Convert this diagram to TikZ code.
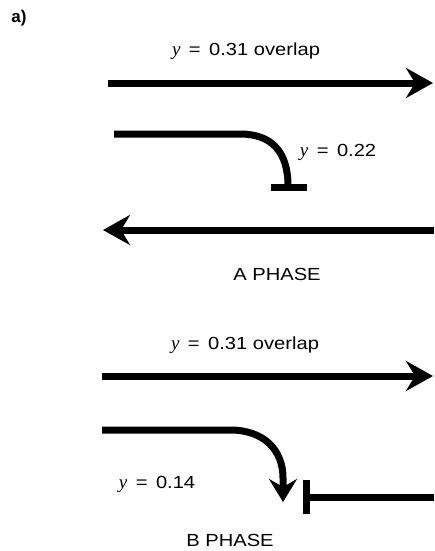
\documentclass[tikz,border=0pt]{standalone}
\usepackage{fontspec}
\setmainfont{Liberation Sans}
\newfontfamily\widefont[FakeStretch=1.15]{Liberation Sans}
\newfontfamily\yfont{Liberation Serif}
\usetikzlibrary{arrows.meta}
\newcommand{\yv}{{\yfont\itshape\fontsize{19}{20}\selectfont y}}
\begin{document}
\begin{tikzpicture}[x=1pt,y=-1pt,
  thick line/.style={line width=7pt,line cap=butt},
  big arrow/.style={thick line,-{Stealth[length=27pt,width=30pt,inset=9pt]}},
  lbl/.style={font=\widefont\fontsize{17.5}{20}\selectfont,anchor=base,inner sep=0pt},
  phase/.style={font=\widefont\fontsize{17.5}{20}\selectfont,anchor=base,inner sep=0pt}]
\useasboundingbox (0,0) rectangle (434,551);
% label
\node[font=\bfseries\fontsize{17}{20}\selectfont,anchor=base,inner sep=0pt] (lab) at (19,23) {a)};
% ---------- A phase ----------
\node[lbl] (t1) at (246,56) {\yv\ \,=\, 0.31 overlap};
\coordinate (a1s) at (108,83);
\coordinate (a1e) at (433,83);
\draw[big arrow] (a1s) -- (a1e);
\coordinate (c1s) at (114,134);
\coordinate (c1m) at (240,134);
\coordinate (c1e) at (288,186);
\draw[thick line] (c1s) -- (c1m) .. controls (272,134) and (288,152) .. (c1e);
\coordinate (b1l) at (271,187);
\coordinate (b1r) at (307,187);
\draw[thick line] (b1l) -- (b1r);
\node[lbl] (t2) at (338,156) {\yv\ \,=\, 0.22};
\coordinate (a3s) at (434,230);
\coordinate (a3e) at (103,230);
\draw[big arrow] (a3s) -- (a3e);
\node[phase] (pa) at (277,280) {A PHASE};
% ---------- B phase ----------
\node[lbl] (t3) at (245,349) {\yv\ \,=\, 0.31 overlap};
\coordinate (a4s) at (102,376);
\coordinate (a4e) at (433,376);
\draw[big arrow] (a4s) -- (a4e);
\coordinate (c2s) at (102,430);
\coordinate (c2m) at (230,430);
\coordinate (c2e) at (283,502);
\draw[thick line,-{Stealth[length=23pt,width=28pt,inset=8pt]}] (c2s) -- (c2m) .. controls (264,430) and (283,450) .. (283,478) -- (c2e);
\node[lbl] (t4) at (157,488) {\yv\ \,=\, 0.14};
\coordinate (b2t) at (306,480);
\coordinate (b2b) at (306,514);
\draw[thick line] (b2t) -- (b2b);
\coordinate (b2s) at (306,497);
\coordinate (b2e) at (434,497);
\draw[thick line] (b2s) -- (b2e);
\node[phase] (pb) at (230,546) {B PHASE};
\end{tikzpicture}
\end{document}
